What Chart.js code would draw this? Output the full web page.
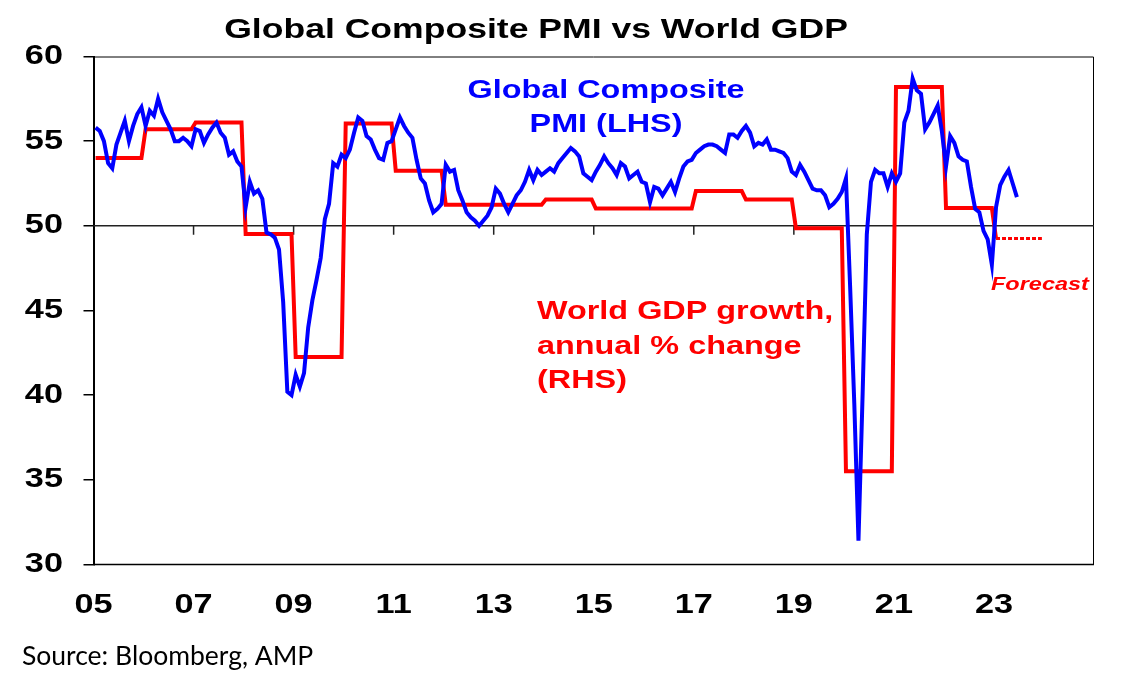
<!DOCTYPE html>
<html>
<head>
<meta charset="utf-8">
<script src="https://cdn.jsdelivr.net/npm/chart.js@4"></script>
<style>
  html, body { margin: 0; padding: 0; background: #fff; }
  canvas { display: block; }
</style>
</head>
<body>
<canvas id="chart" width="1121" height="682"></canvas>
<script>
// Global composite PMI, monthly from Jan 2005 (one row per year)
const pmiStartYear = 2005;
const pmi = [
  55.8, 55.6, 55.0, 53.7, 53.4, 54.8, 55.5, 56.2, 55.0, 55.9, 56.6, 57.0,
  55.9, 56.8, 56.5, 57.5, 56.7, 56.2, 55.7, 55.0, 55.0, 55.2, 55.0, 54.7,
  55.7, 55.6, 54.9, 55.4, 55.8, 56.1, 55.5, 55.2, 54.2, 54.4, 53.8, 53.5,
  51.1, 52.6, 51.9, 52.1, 51.6, 49.6, 49.5, 49.3, 48.6, 45.5, 40.2, 40.0,
  41.2, 40.5, 41.3, 44.0, 45.6, 46.8, 48.1, 50.4, 51.3, 53.7, 53.5, 54.2,
  54.0, 54.5, 55.5, 56.4, 56.2, 55.3, 55.1, 54.5, 54.0, 53.9, 54.9, 55.0,
  55.7, 56.4, 55.9, 55.5, 55.2, 53.9, 52.8, 52.5, 51.5, 50.8, 51.0, 51.3,
  53.6, 53.2, 53.3, 52.1, 51.5, 50.8, 50.5, 50.3, 50.0, 50.3, 50.6, 51.1,
  52.2, 51.9, 51.3, 50.8, 51.3, 51.8, 52.1, 52.6, 53.3, 52.7, 53.3, 53.0,
  53.2, 53.4, 53.2, 53.7, 54.0, 54.3, 54.6, 54.4, 54.1, 53.1, 52.9, 52.7,
  53.2, 53.6, 54.1, 53.7, 53.4, 53.0, 53.7, 53.5, 52.8, 53.0, 53.2, 52.6,
  52.5, 51.4, 52.3, 52.2, 51.8, 52.2, 52.6, 52.0, 52.8, 53.5, 53.8, 53.9,
  54.3, 54.5, 54.7, 54.8, 54.8, 54.7, 54.5, 54.3, 55.4, 55.4, 55.2, 55.6,
  55.9, 55.5, 54.7, 54.9, 54.8, 55.1, 54.5, 54.5, 54.4, 54.3, 54.0, 53.2,
  53.0, 53.6, 53.2, 52.7, 52.2, 52.1, 52.1, 51.8, 51.1, 51.3, 51.6, 52.0,
  52.8, 46.4, 39.5, 31.4, 40.1, 49.5, 52.6, 53.3, 53.1, 53.1, 52.3, 53.1,
  52.6, 53.1, 56.1, 56.8, 58.7, 58.0, 57.8, 55.7, 56.1, 56.6, 57.1, 55.6,
  53.5, 55.3, 54.9, 54.1, 53.9, 53.8, 52.3, 51.0, 50.8, 49.7, 49.2, 47.7,
  51.1, 52.4, 52.9, 53.3, 52.5, 51.7
];

// World GDP growth, annual % change (RHS)
const gdpYears  = [2005, 2006, 2007, 2008, 2009, 2010, 2011, 2012, 2013, 2014, 2015, 2016, 2017, 2018, 2019, 2020, 2021, 2022, 2023];
const gdpGrowth = [4.6, 5.28, 5.44, 2.81, -0.1, 5.42, 4.3, 3.5, 3.5, 3.62, 3.41, 3.41, 3.82, 3.62, 2.94, -2.8, 6.28, 3.42, 2.7];
const forecastFrom = 2023;

// axes
const yTickValues = [30, 35, 40, 45, 50, 55, 60];
const yTickLabels = ['30', '35', '40', '45', '50', '55', '60'];
const xTickYears  = [2005, 2007, 2009, 2011, 2013, 2015, 2017, 2019, 2021, 2023];
const xTickLabels = ['05', '07', '09', '11', '13', '15', '17', '19', '21', '23'];

const BLUE = '#0000ff';
const RED = '#ff0000';
const SX = 1.27; // the picture is stretched sideways

const pmiPoints = pmi.map((v, i) => ({ x: pmiStartYear + (i + 0.5) / 12, y: v }));
const gdpPoints = [];
gdpYears.forEach((yr, i) => {
    gdpPoints.push({ x: yr + 0.5 / 12, y: gdpGrowth[i] });
    gdpPoints.push({ x: yr + 11.5 / 12, y: gdpGrowth[i] });
});

function text(ctx, s, x, y, font, color, align, baseline) {
    ctx.save();
    ctx.font = font;
    ctx.fillStyle = color;
    ctx.textAlign = align || 'left';
    ctx.textBaseline = baseline || 'alphabetic';
    ctx.translate(x, y);
    ctx.scale(SX, 1);
    ctx.fillText(s, 0, 0);
    ctx.restore();
}

const framePlugin = {
    id: 'frame',
    beforeDatasetsDraw(chart) {
        const { ctx, chartArea: a, scales: { x, y } } = chart;
        ctx.save();
        ctx.strokeStyle = '#000';
        ctx.lineWidth = 1;
        ctx.beginPath();
        ctx.moveTo(a.left, a.top + 0.5);
        ctx.lineTo(a.right - 0.5, a.top + 0.5);
        ctx.lineTo(a.right - 0.5, a.bottom);
        ctx.stroke();
        ctx.lineWidth = 1.5;
        ctx.beginPath();
        ctx.moveTo(a.left, a.bottom);
        ctx.lineTo(a.right, a.bottom);
        ctx.stroke();

        // the x axis crosses at 50, ticks hang below it
        const y50 = y.getPixelForValue(50);
        ctx.strokeStyle = '#222';
        ctx.lineWidth = 1.5;
        ctx.beginPath();
        ctx.moveTo(a.left, y50);
        ctx.lineTo(a.right, y50);
        xTickYears.slice(1).forEach(yr => {
            const px = x.getPixelForValue(yr);
            ctx.moveTo(px, y50);
            ctx.lineTo(px, y50 + 9);
        });
        ctx.stroke();
        ctx.restore();
    },
    afterDraw(chart) {
        const { ctx, scales: { x, y } } = chart;
        const bold = px => 'bold ' + px + 'px "Liberation Sans", Arial, sans-serif';

        text(ctx, 'Global Composite PMI vs World GDP', 536, 38, bold(28), '#000', 'center');

        yTickValues.forEach((v, i) => {
            text(ctx, yTickLabels[i], 63, y.getPixelForValue(v), bold(27), '#000', 'right', 'middle');
        });
        xTickYears.forEach((yr, i) => {
            text(ctx, xTickLabels[i], x.getPixelForValue(yr), 606, bold(27), '#000', 'center', 'middle');
        });

        text(ctx, 'Global Composite', 606, 98, bold(25.5), BLUE, 'center');
        text(ctx, 'PMI (LHS)', 606, 132, bold(25.5), BLUE, 'center');

        text(ctx, 'World GDP growth,', 537, 319, bold(25.5), RED, 'left');
        text(ctx, 'annual % change', 537, 354, bold(25.5), RED, 'left');
        text(ctx, '(RHS)', 537, 388, bold(25.5), RED, 'left');

        text(ctx, 'Forecast', 991, 290, 'italic ' + bold(18.5), RED, 'left');

        ctx.save();
        ctx.font = '26.5px Lato, "Open Sans", sans-serif';
        ctx.fillStyle = '#000';
        ctx.fillText('Source: Bloomberg, AMP', 22, 665);
        ctx.restore();
    }
};

new Chart(document.getElementById('chart'), {
    type: 'line',
    data: {
        datasets: [
            {
                label: 'Global Composite PMI (LHS)',
                data: pmiPoints,
                yAxisID: 'y',
                borderColor: BLUE,
                borderWidth: 4,
                pointRadius: 0,
                tension: 0,
                order: 0
            },
            {
                label: 'World GDP growth, annual % change (RHS)',
                data: gdpPoints,
                yAxisID: 'y2',
                borderColor: RED,
                borderWidth: 4,
                pointRadius: 0,
                tension: 0,
                order: 1,
                segment: {
                    borderDash: c => c.p0.parsed.x >= forecastFrom ? [4, 2] : undefined,
                    borderWidth: c => c.p0.parsed.x >= forecastFrom ? 3 : undefined
                }
            }
        ]
    },
    options: {
        responsive: false,
        animation: false,
        devicePixelRatio: 1,
        layout: { padding: { top: 56.5, right: 27, left: 0, bottom: 0 } },
        plugins: {
            legend: { display: false },
            title: { display: false },
            tooltip: { enabled: false }
        },
        scales: {
            x: {
                type: 'linear',
                min: 2005,
                max: 2025,
                afterBuildTicks: s => { s.ticks = xTickYears.concat([2025]).map(v => ({ value: v })); },
                afterFit: s => { s.height = 117.5; },
                ticks: { display: false },
                grid: { display: false },
                border: { display: false }
            },
            y: {
                position: 'left',
                min: 30,
                max: 60,
                afterBuildTicks: s => { s.ticks = yTickValues.map(v => ({ value: v })); },
                afterFit: s => { s.width = 93.5; },
                ticks: { display: false },
                grid: { drawOnChartArea: false, drawTicks: true, tickLength: 10, color: '#000', lineWidth: 1.5 },
                border: { display: true, color: '#000', width: 2 }
            },
            y2: {
                position: 'right',
                display: false,
                min: -5,
                max: 7
            }
        }
    },
    plugins: [framePlugin]
});
</script>
</body>
</html>
